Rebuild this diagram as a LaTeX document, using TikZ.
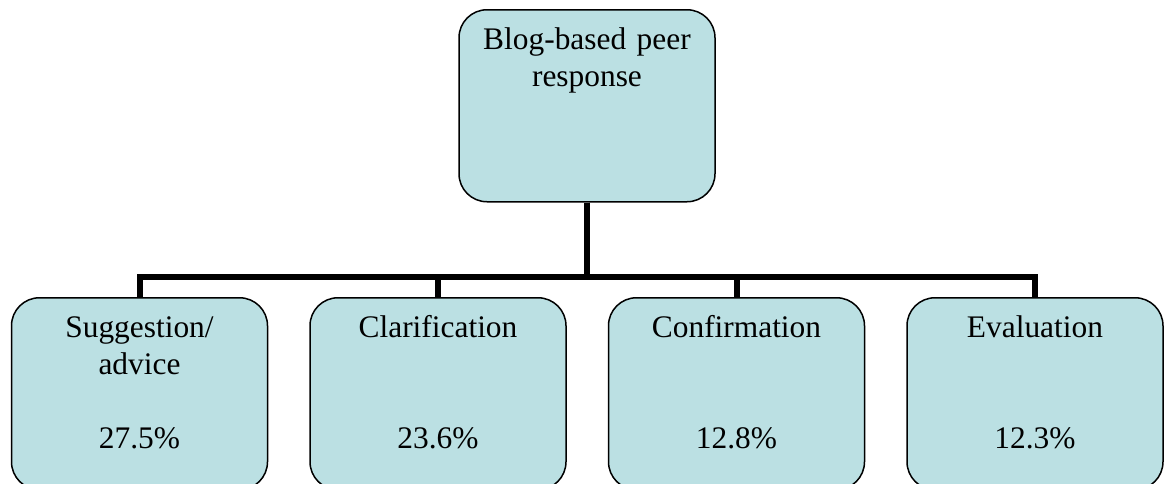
\documentclass[tikz,border=0pt]{standalone}
\usepackage{fontspec}
\setmainfont{Liberation Serif}
\usetikzlibrary{positioning}

\definecolor{boxfill}{RGB}{187,224,227}

\begin{document}
\begin{tikzpicture}[x=0.5pt, y=-0.5pt, node distance=20.5pt,
  stagebox/.style={draw=black, line width=0.75pt, fill=boxfill,
    rounded corners=14pt, anchor=north, text width=128pt,
    align=center, inner xsep=0pt, inner ysep=0pt,
    text height=20pt, text depth=76pt,
    font=\fontsize{15.7}{18.5}\selectfont},
  branch/.style={line width=3pt}]

\clip (0,0) rectangle (1164,483);

\node[stagebox]
(peer) at (587, 9)
{Blog-based peer\\response};

\node[stagebox]
(suggestion) at (139.5, 297)
{Suggestion/\\advice\\[18.5pt]27.5\%};

\node[stagebox, right=of suggestion]
(clarification)
{Clarification\\[37pt]23.6\%};

\node[stagebox, right=of clarification]
(confirmation)
{Confirmation\\[37pt]12.8\%};

\node[stagebox, right=of confirmation]
(evaluation)
{Evaluation\\[37pt]12.3\%};

% elbow connectors through one fork point
\coordinate (fork) at (587, 277);

\draw[branch] (peer.south) -- (fork) -| (suggestion.north);
\draw[branch] (peer.south) -- (fork) -| (clarification.north);
\draw[branch] (peer.south) -- (fork) -| (confirmation.north);
\draw[branch] (peer.south) -- (fork) -| (evaluation.north);

\end{tikzpicture}
\end{document}
